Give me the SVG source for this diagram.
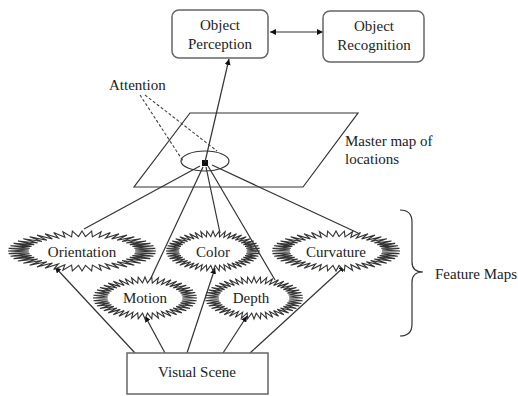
<svg xmlns="http://www.w3.org/2000/svg" xmlns:xlink="http://www.w3.org/1999/xlink" width="518" height="396" viewBox="0 0 518 396">
<style>
text{font-family:"Liberation Serif","Times New Roman",serif;font-size:15px;fill:#222}
.box{fill:#fff;stroke:#666;stroke-width:1.5}
.ln{fill:none;stroke:#333;stroke-width:1.2}
.dash{fill:none;stroke:#444;stroke-width:1.1;stroke-dasharray:3 2}
.star{fill:#fff;stroke:#333;stroke-width:1.1}
.c{text-anchor:middle}
</style>
<defs>
<marker id="ah" viewBox="0 0 10 10" refX="10" refY="5" markerWidth="6" markerHeight="6" markerUnits="userSpaceOnUse" orient="auto-start-reverse">
<path d="M0,0 L10,5 L0,10 z" fill="#111"/>
</marker>
<path id="star" class="star" vector-effect="non-scaling-stroke" d="M100,0 71.85,4.71 99.14,13.05 70.62,14.05 96.59,25.88 68.18,23.14 92.39,38.27 64.57,31.84 86.6,50 59.87,40 79.34,60.88 54.13,47.47 70.71,70.71 47.47,54.13 60.88,79.34 40,59.87 50,86.6 31.84,64.57 38.27,92.39 23.14,68.18 25.88,96.59 14.05,70.62 13.05,99.14 4.71,71.85 0,100 -4.71,71.85 -13.05,99.14 -14.05,70.62 -25.88,96.59 -23.14,68.18 -38.27,92.39 -31.84,64.57 -50,86.6 -40,59.87 -60.88,79.34 -47.47,54.13 -70.71,70.71 -54.13,47.47 -79.34,60.88 -59.87,40 -86.6,50 -64.57,31.84 -92.39,38.27 -68.18,23.14 -96.59,25.88 -70.62,14.05 -99.14,13.05 -71.85,4.71 -100,0 -71.85,-4.71 -99.14,-13.05 -70.62,-14.05 -96.59,-25.88 -68.18,-23.14 -92.39,-38.27 -64.57,-31.84 -86.6,-50 -59.87,-40 -79.34,-60.88 -54.13,-47.47 -70.71,-70.71 -47.47,-54.13 -60.88,-79.34 -40,-59.87 -50,-86.6 -31.84,-64.57 -38.27,-92.39 -23.14,-68.18 -25.88,-96.59 -14.05,-70.62 -13.05,-99.14 -4.71,-71.85 0,-100 4.71,-71.85 13.05,-99.14 14.05,-70.62 25.88,-96.59 23.14,-68.18 38.27,-92.39 31.84,-64.57 50,-86.6 40,-59.87 60.88,-79.34 47.47,-54.13 70.71,-70.71 54.13,-47.47 79.34,-60.88 59.87,-40 86.6,-50 64.57,-31.84 92.39,-38.27 68.18,-23.14 96.59,-25.88 70.62,-14.05 99.14,-13.05 71.85,-4.71 Z"/>
</defs>
<rect width="518" height="396" fill="#fff"/>

<g id="master-map">
<path class="ln" d="M190,113 L358,113 L303,187 L134,187 Z"/>
<ellipse class="ln" cx="205" cy="161" rx="24" ry="10"/>
<rect x="202" y="160" width="6" height="6" fill="#111"/>
<text x="345" y="146">Master map of</text>
<text x="345" y="164">locations</text>
</g>

<g id="connectors">
<line class="ln" x1="205" y1="162" x2="229" y2="59" marker-end="url(#ah)"/>
<line class="ln" x1="270" y1="32" x2="323" y2="32" marker-start="url(#ah)" marker-end="url(#ah)"/>
<line class="dash" x1="140" y1="95" x2="183" y2="161"/>
<line class="dash" x1="145" y1="95" x2="217" y2="151"/>
<line class="ln" x1="200" y1="166" x2="84" y2="229"/>
<line class="ln" x1="203" y1="167" x2="150" y2="280"/>
<line class="ln" x1="206" y1="167" x2="220" y2="233"/>
<line class="ln" x1="208" y1="166" x2="275" y2="280"/>
<line class="ln" x1="212" y1="165" x2="358" y2="233"/>
<line class="ln" x1="135" y1="353" x2="55" y2="267" marker-end="url(#ah)"/>
<line class="ln" x1="165" y1="353" x2="145" y2="316" marker-end="url(#ah)"/>
<line class="ln" x1="187" y1="353" x2="215" y2="268" marker-end="url(#ah)"/>
<line class="ln" x1="223" y1="353" x2="247" y2="316" marker-end="url(#ah)"/>
<line class="ln" x1="250" y1="353" x2="345" y2="266" marker-end="url(#ah)"/>
</g>

<g id="object-perception">
<rect class="box" x="172" y="10" width="96" height="48" rx="7"/>
<text class="c" x="220" y="30">Object</text>
<text class="c" x="220" y="49">Perception</text>
</g>
<g id="object-recognition">
<rect class="box" x="323" y="11" width="101" height="51" rx="7"/>
<text class="c" x="374" y="31">Object</text>
<text class="c" x="374" y="50">Recognition</text>
</g>
<g id="attention">
<text x="109" y="90">Attention</text>
</g>

<g id="orientation">
<use xlink:href="#star" transform="translate(82,251) scale(0.74,0.2)"/>
<text class="c" x="82" y="257">Orientation</text>
</g>
<g id="color">
<use xlink:href="#star" transform="translate(213,251) scale(0.47,0.2)"/>
<text class="c" x="213" y="257">Color</text>
</g>
<g id="curvature">
<use xlink:href="#star" transform="translate(336,251) scale(0.64,0.2)"/>
<text class="c" x="336" y="257">Curvature</text>
</g>
<g id="motion">
<use xlink:href="#star" transform="translate(145,298) scale(0.52,0.21)"/>
<text class="c" x="145" y="303">Motion</text>
</g>
<g id="depth">
<use xlink:href="#star" transform="translate(254,298) scale(0.49,0.21)"/>
<text class="c" x="251" y="303">Depth</text>
</g>

<g id="feature-maps">
<path class="ln" d="M400,210 Q412,210 412,222 L412,262 Q412,272 423,272 Q412,272 412,282 L412,324 Q412,336 400,336"/>
<text x="435" y="279">Feature Maps</text>
</g>

<g id="visual-scene">
<rect class="box" x="127" y="353" width="141" height="41"/>
<text class="c" x="197" y="377">Visual Scene</text>
</g>
</svg>
